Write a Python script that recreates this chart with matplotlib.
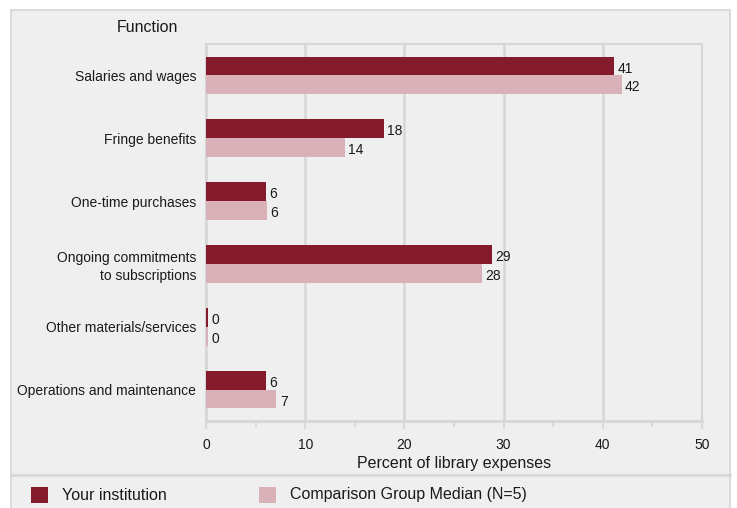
import numpy as np
import matplotlib.pyplot as plt
from matplotlib.patches import Rectangle
from matplotlib.lines import Line2D

plt.rcParams['font.family'] = ['Liberation Sans', 'DejaVu Sans']

# ===== DATA =====
categories = ["Salaries and wages", "Fringe benefits", "One-time purchases",
              "Ongoing commitments\nto subscriptions", "Other materials/services",
              "Operations and maintenance"]
your_inst = [41.1, 17.9, 6.0, 28.8, 0.2, 6.0]
comp_median = [41.9, 14.0, 6.1, 27.8, 0.2, 7.1]
your_labels = ["41", "18", "6", "29", "0", "6"]
comp_labels = ["42", "14", "6", "28", "0", "7"]
series_names = ["Your institution", "Comparison Group Median (N=5)"]

c_dark = '#841b2d'
c_light = '#d8b2b8'
panel = '#efefef'
grid_c = '#d6d6d6'
txt_c = '#1a1a1a'
fs = 10
fs_big = 11.5

fig = plt.figure(figsize=(7.37, 5.08), dpi=100)
fig.patch.set_facecolor('white')

# ===== PANEL =====
W, H = 737, 508
fig.patches.append(Rectangle((11 / W, -0.01), 719 / W, 498 / H + 0.01, transform=fig.transFigure,
                             facecolor=panel, edgecolor=grid_c, linewidth=1.2, zorder=-1))
fig.lines.append(Line2D([11 / W, 730 / W], [1 - 475 / H, 1 - 475 / H],
                        transform=fig.transFigure, color=grid_c, linewidth=1.8))

ax = fig.add_axes([206 / W, 1 - 421 / H, 496 / W, 377 / H])
ax.set_facecolor(panel)

y = np.arange(len(categories))
h = 0.3
ax.barh(y - h / 2, your_inst, height=h, color=c_dark, zorder=3)
ax.barh(y + h / 2, comp_median, height=h, color=c_light, zorder=3)

for yi, v, lab in zip(y, your_inst, your_labels):
    ax.text(v + 0.35, yi - h / 2 + 0.04, lab, va='center', ha='left', fontsize=fs, color=txt_c)
for yi, v, lab in zip(y, comp_median, comp_labels):
    ax.text(v + 0.35, yi + h / 2 + 0.04, lab, va='center', ha='left', fontsize=fs, color=txt_c)

ax.set_xlim(0, 50)
ax.set_ylim(len(categories) - 0.5, -0.5)
ax.set_yticks(y)
ax.set_yticklabels(categories, fontsize=fs, color=txt_c, linespacing=1.35)
ax.set_xticks(np.arange(0, 51, 10))
ax.set_xticks(np.arange(5, 50, 10), minor=True)
ax.tick_params(axis='x', which='major', labelsize=fs, colors=txt_c,
               length=6, width=1.2, color=grid_c, pad=6)
ax.tick_params(axis='x', which='minor', length=4, width=1.2, color=grid_c)
ax.tick_params(axis='y', length=0, pad=7)
ax.xaxis.grid(True, color=grid_c, linewidth=1.8, zorder=0)
ax.set_axisbelow(True)
for s in ax.spines.values():
    s.set_color(grid_c)
    s.set_linewidth(1.5)
ax.spines['bottom'].set_linewidth(2)

ax.set_xlabel("Percent of library expenses", fontsize=fs_big, color=txt_c, labelpad=3)

fig.text(147 / W, 1 - 28 / H, "Function", ha='center', va='center', fontsize=fs_big, color=txt_c)

# ===== LEGEND =====
for x0, name, col in [(31, series_names[0], c_dark), (259, series_names[1], c_light)]:
    fig.patches.append(Rectangle((x0 / W, 1 - 503 / H), 17 / W, 16 / H,
                                 transform=fig.transFigure, facecolor=col, edgecolor='none'))
    fig.text((x0 + 31) / W, 1 - 495 / H, name, ha='left', va='center',
             fontsize=fs_big, color=txt_c)

fig.savefig("out.png", dpi=100)
